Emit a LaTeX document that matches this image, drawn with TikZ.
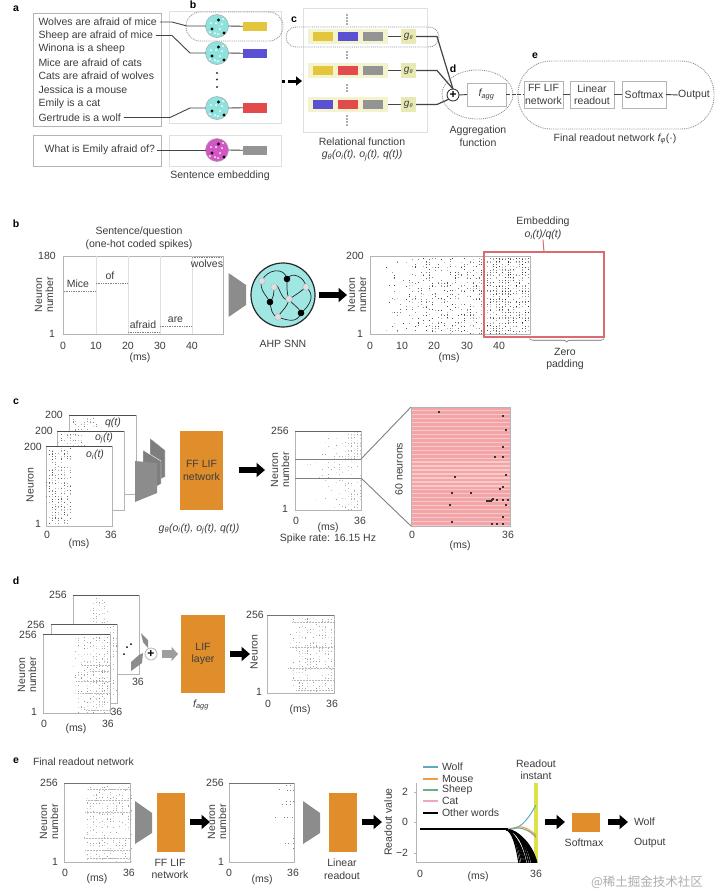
\documentclass[tikz,border=0pt]{standalone}
\usepackage{fontspec}
\setmainfont{Liberation Sans}
\newfontfamily\cjkfont{Noto Sans CJK SC}
\usetikzlibrary{arrows.meta,decorations.pathreplacing,calc,shapes.geometric}
\definecolor{txt}{HTML}{3C3C3C}
\definecolor{frameg}{HTML}{B4B4B4}
\definecolor{lightg}{HTML}{DFDFDF}
\definecolor{dotline}{HTML}{8A92A0}
\definecolor{wire}{HTML}{444444}
\definecolor{cyanb}{HTML}{8FE3DF}
\definecolor{magb}{HTML}{D455C4}
\definecolor{yel}{HTML}{E4C63C}
\definecolor{blu}{HTML}{5B50D2}
\definecolor{rdd}{HTML}{E24A4C}
\definecolor{gry}{HTML}{949494}
\definecolor{cream}{HTML}{F3F3CF}
\definecolor{gbox}{HTML}{E9E9B4}
\definecolor{orng}{HTML}{E08E2B}
\definecolor{pinkl}{HTML}{DC6A72}
\definecolor{trap}{HTML}{8C8C8C}
\definecolor{wolfc}{HTML}{62A8C6}
\definecolor{mousec}{HTML}{EE9E4A}
\definecolor{sheepc}{HTML}{66B282}
\definecolor{catc}{HTML}{EFA8BA}
\definecolor{barc}{HTML}{DDE346}
\definecolor{stripea}{HTML}{F9C8C8}
\definecolor{stripeb}{HTML}{F2A4A6}
\tikzset{
  lab/.style={font=\fontsize{10.5}{12.5}\selectfont,text=txt,inner sep=0pt,outer sep=0pt,align=center},
  tag/.style={font=\fontsize{10.5}{12}\selectfont\bfseries,text=black,inner sep=0pt},
  tbox/.style={draw=frameg,line width=.9pt,fill=white},
  ltbox/.style={draw=lightg,line width=1pt,fill=white},
  dotted shape/.style={draw=dotline,line width=.9pt,densely dotted},
  wireline/.style={draw=wire,line width=.9pt},
  blk/.style={draw=black,line width=6pt,-{Triangle[length=8.5pt,width=14pt]}},
  plotf/.style={draw=frameg,line width=.9pt,fill=white},
  orangeb/.style={fill=orng,font=\fontsize{10.5}{12.5}\selectfont,text=txt,align=center},
  trapz/.style={fill=trap},
  cell/.style={fill=cream}
}
% boxed node from corners: style, name, x0,y0,x1,y1, text
\newcommand{\bx}[7][]{\node[#1,minimum width={((#5)-(#3))*1pt},minimum height={((#6)-(#4))*1pt},inner sep=0pt,outer sep=0pt,anchor=center] (#2) at ({((#3)+(#5))/2},{((#4)+(#6))/2}) {#7};}
% raster: x0,y0,x1,y1,n,start fraction,power,grey level
\newcommand{\myraster}[8]{%
  \foreach \k in {1,...,#5}{%
    \pgfmathsetmacro\rx{#1+(#3-#1)*(#6+(1-#6)*pow(rnd,#7))}%
    \pgfmathsetmacro\ry{#2+(#4-#2)*rnd}%
    \pgfmathsetmacro\rqx{round(\rx/2.9)*2.9}%
    \pgfmathsetmacro\rqy{round(\ry/1.6)*1.6}%
    \pgfmathtruncatemacro\rlv{#8*(.35+.95*rnd)}%
    \fill[black!\rlv] (\rqx,\rqy) rectangle ++(.85,.85);%
  }}
\newcommand{\neuroncirc}[4]{%
  \node[circle,fill=#4,draw=black!35,line width=.5pt,minimum size=23pt,inner sep=0pt,outer sep=0pt] (#1) at (#2,#3) {};
  \foreach \a/\b in {1.5/-6,-5/3,7/7}{\fill[black] (#2+\a,#3+\b) circle (1.7);}
  \foreach \a/\b in {5/-2,-1/-3,-6/-3,3/3,-2/7,6/-7,-7/6,1/8}{\fill[white] (#2+\a,#3+\b) circle (1);}}
\begin{document}
\begin{tikzpicture}[x=1pt,y=-1pt]
\useasboundingbox[fill=white] (0,0) rectangle (720,895);
\pgfmathsetseed{7}

%%%%%%%%%%%%%%%% panel a
\node[tag] (taga) at (16,9) {a};
\bx[tbox]{sentbox}{33}{13}{161}{126}{}
\bx[tbox]{qbox}{33}{135}{161}{166}{}
\bx[ltbox]{embbox}{169}{11}{281}{123}{}
\bx[ltbox]{qembbox}{169}{135}{281}{166}{}
\foreach \n/\y/\t in {s1/22/Wolves are afraid of mice,s2/35.5/Sheep are afraid of mice,s3/49/Winona is a sheep,s4/62.5/Mice are afraid of cats,s5/76/Cats are afraid of wolves,s6/90/Jessica is a mouse,s7/103.5/Emily is a cat,s8/117.5/Gertrude is a wolf}
  {\node[lab,anchor=west] (\n) at (38.5,\y) {\t};}
\node[lab,anchor=east] (sq) at (155,150) {What is Emily afraid of?};
\node[tag] (tagb) at (193,5) {b};
\neuroncirc{c1}{217}{26}{cyanb}
\neuroncirc{c2}{217}{53}{cyanb}
\neuroncirc{c3}{217}{108}{cyanb}
\neuroncirc{c4}{217}{150}{magb}
\bx[fill=yel]{r1}{243}{21.5}{267}{31}{}
\bx[fill=blu]{r2}{243}{48.5}{267}{58}{}
\bx[fill=rdd]{r3}{243}{103}{267}{112.5}{}
\bx[fill=gry]{r4}{243}{145.5}{267}{155}{}
\draw[wireline] ([xshift=3pt]s1.east) -- (172,22) -- (187,26) -- (c1.west);
\draw[wireline] ([xshift=3pt]s2.east) -- (172,35.5) -- (190,53) -- (c2.west);
\draw[wireline] ([xshift=3pt]s8.east) -- (170,117.5) -- (190,108) -- (c3.west);
\draw[wireline] ([xshift=2pt]sq.east) -- (c4.west);
\foreach \i in {1,2,3,4}{\draw[wireline] (c\i.east) -- (r\i.west);}
\foreach \y in {73,79.5,87}{\fill[black!80] (217,\y) circle (1.1);}
\bx[dotted shape,rounded corners=14pt]{dotb}{186}{12}{283}{41}{}
\node[lab] (sentemb) at (220,176) {Sentence embedding};
% relational box
\bx[ltbox]{relbox}{303}{8}{427}{132}{}
\node[tag] (tagc) at (294,20) {c};
\foreach \row/\y/\ca/\cb in {1/36.5/yel/blu,2/70.5/yel/rdd,3/104.5/blu/rdd}{
  \bx[cell]{row\row}{308}{\y-7.5}{388}{\y+7.5}{}
  \bx[fill=\ca]{ra\row}{313}{\y-4.5}{333}{\y+4.5}{}
  \bx[fill=\cb]{rb\row}{338}{\y-4.5}{358}{\y+4.5}{}
  \bx[fill=gry]{rc\row}{363}{\y-4.5}{383}{\y+4.5}{}
  \bx[fill=gbox,font=\fontsize{10}{11}\selectfont\itshape,text=txt]{g\row}{401}{\y-7.5}{416}{\y+7.5}{g\textsubscript{\fontsize{5.5}{5.5}\selectfont θ}}
  \draw[wireline] (row\row.east) -- (g\row.west);
}
\foreach \y in {15,18,21,24,52,55,58,85,88,91,116,119,122,125}{\fill[black!65] (347,\y) circle (.8);}
\bx[dotted shape,rounded corners=10pt]{dotc}{286}{27}{439}{47}{}
\node[lab] (relt) at (362,142) {Relational function};
\node[lab] (relf) at (362,155.5) {\itshape g\textsubscript{θ}(o\textsubscript{i}(t), o\textsubscript{j}(t), q(t))};
\node[circle,draw=txt,line width=.9pt,fill=white,minimum size=12pt,inner sep=0pt,outer sep=0pt,font=\fontsize{12}{12}\selectfont\bfseries,text=black] (plus) at (453,95) {+};
\draw[draw=wire,line width=1.2pt] (g1.east) -- (437,36.5) -- (plus.north);
\draw[draw=wire,line width=1.2pt] (g2.east) -- (437,70.5) -- (plus.north);
\draw[draw=wire,line width=1.2pt] (g3.east) -- (437,104.5) -- (plus.south west);
\bx[tbox]{fagg}{467}{83}{506}{106}{\fontsize{10.5}{12}\selectfont\color{txt}\itshape f\textsubscript{agg}}
\draw[wireline] (plus.east) -- (fagg.west);
\bx[tbox,font=\fontsize{10.5}{12.5}\selectfont,text=txt,align=center]{fflif}{524}{81}{563}{108}{FF LIF\\network}
\bx[tbox,font=\fontsize{10.5}{12.5}\selectfont,text=txt,align=center]{linr}{570}{81}{614}{108}{Linear\\readout}
\bx[tbox,font=\fontsize{10.5}{12.5}\selectfont,text=txt,align=center]{softm}{622}{81}{666}{108}{Softmax}
\node[lab] (outp) at (694,95) {Output};
\draw[wireline,dash pattern=on 4pt off 1.5pt] (fagg.east) -- (fflif.west);
\draw[wireline] (fflif.east) -- (linr.west);
\draw[wireline] (linr.east) -- (softm.west);
\draw[wireline] (softm.east) -- (outp.west);
\bx[dotted shape,ellipse]{dotd}{442}{70}{513}{119}{}
\bx[dotted shape,rounded corners=33pt]{dote}{518}{61}{714}{129}{}
\node[tag] (tagd) at (453,69) {d};
\node[tag] (tage) at (535,56) {e};
\node[lab] (aggt) at (478,136) {Aggregation\\function};
\node[lab] (finalt) at (615,139) {Final readout network {\itshape f\textsubscript{φ}}(·)};
\coordinate (adot) at (283,81);
\fill[black] (281.5,79.5) rectangle (284.5,82.5);
\coordinate (aa) at (288,81); \coordinate (ab) at (302,81);
\draw[draw=black,line width=3pt,-{Triangle[length=6pt,width=9pt]}] (aa) -- (ab);

%%%%%%%%%%%%%%%% panel b
\node[tag] (tagb2) at (16,224) {b};
\node[lab] (bti) at (139,238.5) {Sentence/question\\(one-hot coded spikes)};
\bx[plotf]{bplot}{63}{256}{223}{334}{}
\foreach \x in {96,128,160,192}{\draw[lightg,line width=.6pt] (\x,256) -- (\x,334);}
\foreach \xa/\xb/\y/\xl/\yl/\t in {64/95/291/78/284/Mice,96/127/283/110/276/of,128/159/332/143/324.5/afraid,160/191/326/175.5/320/are,192/222/257.5/207/264/wolves}{
  \draw[black!50,line width=.7pt,densely dotted] (\xa,\y) -- (\xb,\y);
  \node[lab] (w\t) at (\xl,\yl) {\t};
}
\foreach \x/\t in {63/0,96/10,128/20,160/30,192/40}{\node[lab] (bx\t) at (\x,345.5) {\t};}
\node[lab] (bms) at (140,358) {(ms)};
\node[lab] (by1) at (47,256) {180};
\node[lab] (by2) at (52,334) {1};
\node[lab,rotate=90] (byl) at (44,295) {Neuron\\[-1.5pt]number};
\fill[trapz] (228.5,273) -- (246,285) -- (246,305) -- (228.5,317) -- cycle;
\node[circle,draw=black!85,line width=1.2pt,fill=cyanb!85!white,minimum size=64pt,inner sep=0pt] (snn) at (283,295) {};
\foreach \n/\x/\y in {g1/262/281,g2/274/287,g3/306/287,g4/289/299,g5/278/317,h1/287/279,h2/270/302,h3/301/313}{
  \coordinate (\n) at (\x,\y);
}
\begin{scope}[line width=.7pt,black!85]
\draw (g1) to[out=70,in=100,looseness=1.3] (h1);
\draw (h1) to[out=-90,in=110] (g4);
\draw (h1) to[out=60,in=95,looseness=1.2] (g3);
\draw (g3) to[out=-40,in=40,looseness=1.2] (h3);
\draw (g4) to[out=30,in=-140] (g3);
\draw (g4) to[out=-60,in=110] (h3);
\draw (h2) to[out=50,in=-90] (g2);
\draw (h2) to[out=-80,in=170] (g5);
\draw (g1) to[out=-110,in=120] (h2);
\draw (g5) to[out=-20,in=-110,looseness=1.2] (h3);
\draw (g2) to[out=60,in=-150,looseness=1.3] (g4);
\draw (g5) to[out=60,in=-100] (g4);
\end{scope}
\foreach \n in {g1,g2,g3,g4,g5}{\fill[lightg,draw=black!35,line width=.3pt] (\n) circle (3.3);}
\foreach \n in {h1,h2,h3}{\fill[black] (\n) circle (3.3);}
\node[lab] (ahp) at (283,344) {AHP SNN};
\coordinate (ba) at (319,295); \coordinate (bb) at (347,295);
\draw[blk] (ba) -- (bb);
\bx[plotf]{brast}{370}{256}{530}{334}{}
\myraster{378}{257}{529}{333}{850}{.05}{.62}{60}
\myraster{484}{257}{529}{333}{200}{0}{1}{70}
\foreach \x/\t in {370/0,402/10,434/20,467/30,499/40}{\node[lab] (rx\t) at (\x,345.5) {\t};}
\node[lab] (rms) at (449,358) {(ms)};
\node[lab] (ry1) at (355,256) {200};
\node[lab] (ry2) at (360,334) {1};
\node[lab,rotate=90] (ryl) at (357,295) {Neuron\\[-1.5pt]number};
\bx[draw=pinkl,line width=1.2pt]{prect}{484}{252}{604}{337}{}
\node[lab] (embt) at (543,228.5) {Embedding\\{\itshape o\textsubscript{i}(t)/q(t)}};
\draw[draw=pinkl,line width=1pt] (prect.north) -- (embt.south);
\coordinate (bra) at (529.5,338.5); \coordinate (brb) at (604,338.5);
\draw[black!60,line width=.6pt,decorate,decoration={brace,mirror,amplitude=3.5pt}] (bra) -- (brb);
\node[lab] (zp) at (565,359) {Zero\\padding};

%%%%%%%%%%%%%%%% panel c
\node[tag] (tagc2) at (16,402) {c};
\bx[plotf]{cq}{69}{415}{136}{494}{}
\myraster{71}{417}{95}{430}{35}{0}{1}{45}
\bx[plotf]{cj}{57}{431}{124}{510}{}
\myraster{59}{433}{83}{445}{35}{0}{1}{45}
\bx[plotf]{ci}{46}{446}{112}{526}{}
\myraster{47}{448}{71}{524}{240}{0}{1}{55}
\draw[black!70,line width=.9pt] (69,415) -- (136,415) (57,431) -- (124,431) (46,446) -- (112,446);
\node[lab] (cy1) at (54,415) {200};
\node[lab] (cy2) at (44,431) {200};
\node[lab] (cy3) at (33,447) {200};
\node[lab] (cy4) at (38,524) {1};
\node[lab] (cx0) at (47,535) {0};
\node[lab] (cx1) at (111,535) {36};
\node[lab] (cms) at (79,544) {(ms)};
\node[lab,rotate=90] (cyl) at (30,485) {Neuron};
\node[lab] (lq) at (113,423) {\itshape q(t)};
\node[lab] (lj) at (104,438) {\itshape o\textsubscript{j}(t)};
\node[lab] (li) at (95,455) {\itshape o\textsubscript{i}(t)};
\fill[trap!90!black] (150,438) -- (165,450) -- (165,477) -- (150,484) -- cycle;
\draw[white,line width=.4pt] (150,438) -- (165,450) -- (165,477) -- (150,484) -- cycle;
\fill[trap!90!black] (143,450) -- (161,461) -- (161,484) -- (143,494) -- cycle;
\draw[white,line width=.4pt] (143,450) -- (161,461) -- (161,484) -- (143,494) -- cycle;
\fill[trap] (135,461) -- (157,463) -- (157,493) -- (135,502) -- cycle;
\bx[orangeb]{cff}{180}{431}{223}{510}{FF LIF\\network}
\node[lab] (cgt) at (199,529) {\itshape g\textsubscript{θ}(o\textsubscript{i}(t), o\textsubscript{j}(t), q(t))};
\coordinate (ca) at (239,470); \coordinate (cb) at (265,470);
\draw[blk] (ca) -- (cb);
\bx[plotf]{cr}{295}{431}{361}{510}{}
\myraster{297}{432}{360}{509}{100}{.1}{.6}{30}
\myraster{345}{432}{360}{458}{90}{0}{1}{30}
\myraster{345}{480}{360}{509}{30}{0}{1}{30}
\draw[black!60,line width=1pt] (295,431) -- (361,431);
\draw[black!50,line width=.9pt] (295,459) -- (361,459) (295,478) -- (361,478);
\coordinate (zt) at (361,459); \coordinate (zb) at (361,478);
\node[lab] (cry1) at (280,431) {256};
\node[lab] (cry2) at (285,509) {1};
\node[lab] (crx0) at (296,521) {0};
\node[lab] (crx1) at (360,521) {36};
\node[lab] (crms) at (328,528) {(ms)};
\node[lab] (rate) at (328,539) {Spike rate: 16.15 Hz};
\node[lab,rotate=90] (cryl) at (280,470) {Neuron\\[-1.5pt]number};
\bx[fill=stripea,draw=frameg,line width=.8pt]{zoombox}{411}{407}{510}{526}{}
\foreach \i in {0,...,29}{\fill[stripeb] (411.5,407.5+\i*3.95) rectangle (509.5,407.5+\i*3.95+2.6);}
\draw[black!50,line width=.9pt] (zt) -- (zoombox.north west);
\draw[black!50,line width=.9pt] (zb) -- (zoombox.south west);
\foreach \x/\y in {439/412,503/416,506/430,503/447,495/457,503/457,455/477,506/475,503/487,500/489,452/493,471/493,487/501,489/501,491/501,492/500,493/499,497/500,503/500,508/500,450/505,506/505,503/517,452/522,492/524,497/524,503/524}
  {\fill[black!80] (\x-1,\y-.8) rectangle (\x+1,\y+.8);}
\node[lab,rotate=90] (n60) at (399,469) {60 neurons};
\node[lab] (zx0) at (412,535) {0};
\node[lab] (zx1) at (508,535) {36};
\node[lab] (zms) at (460,546) {(ms)};

%%%%%%%%%%%%%%%% panel d
\node[tag] (tagd2) at (16,581) {d};
\bx[plotf]{dq}{73}{595}{139}{674}{}
\myraster{90}{597}{108}{624}{40}{0}{1}{28}
\bx[plotf]{dj}{51}{624}{117}{703}{}
\myraster{108}{626}{116}{702}{55}{0}{1}{35}
\bx[plotf]{di}{43}{634}{110}{713}{}
\myraster{72}{636}{110}{712}{270}{0}{.7}{35}
\foreach \xa/\xb/\y in {82/110/665,76/110/681,80/110/693,86/110/710,90/110/671}{\draw[black!28,line width=.5pt,densely dotted] (\xa,\y) -- (\xb,\y);}
\draw[black!65,line width=.9pt] (73,595) -- (139,595) (51,624) -- (117,624) (43,634) -- (110,634);
\node[lab] (dy1) at (58,595) {256};
\node[lab] (dy2) at (36,625) {256};
\node[lab] (dy3) at (28,635) {256};
\node[lab] (dy4) at (34,712) {1};
\node[lab] (dx0) at (44,724) {0};
\node[lab] (dx1) at (108,724) {36};
\node[lab] (dx2) at (116.5,711.5) {36};
\node[lab] (dx3) at (138,682) {36};
\node[lab] (dms) at (76,729) {(ms)};
\node[lab,rotate=90] (dyl) at (27,675) {Neuron\\[-1.5pt]number};
\foreach \x/\y in {124/654,127/647,131/644}{\fill[black] (\x,\y) circle (1);}
\fill[trap] (141,633) -- (148,640) -- (148,648) -- (143,642) -- cycle;
\fill[trap] (139,655) -- (143,653) -- (142,663) -- (131,671) -- (131,662) -- cycle;
\node[circle,draw=frameg,line width=.8pt,fill=white,minimum size=12pt,inner sep=0pt,outer sep=0pt,font=\fontsize{12}{12}\selectfont\bfseries,text=black] (dplus) at (151,654) {+};
\coordinate (dga) at (162,654); \coordinate (dgb) at (178,654);
\draw[draw=trap!85!white,line width=7.5pt,-{Triangle[length=6.5pt,width=14pt]}] (dga) -- (dgb);
\bx[orangeb]{dlif}{181}{615}{225}{693}{LIF\\layer}
\node[lab] (dfa) at (201,705) {\itshape f\textsubscript{agg}};
\coordinate (da) at (230,654); \coordinate (db) at (250,654);
\draw[blk] (da) -- (db);
\bx[plotf]{dr}{267}{615}{334}{693}{}
\myraster{290}{617}{334}{692}{260}{0}{.9}{32}
\foreach \xa/\y in {292/622,290/647,288/668,292/680,296/690}{\draw[black!28,line width=.5pt,densely dotted] (\xa,\y) -- (334,\y);}
\draw[black!55,line width=1pt] (267,615) -- (334,615);
\node[lab] (dry1) at (255,615) {256};
\node[lab] (dry2) at (259,692) {1};
\node[lab] (drx0) at (268,704) {0};
\node[lab] (drx1) at (332,704) {36};
\node[lab] (drms) at (300,710) {(ms)};
\node[lab,rotate=90] (dryl) at (254,652) {Neuron};

%%%%%%%%%%%%%%%% panel e
\node[tag] (tage2) at (16,761) {e};
\node[lab,anchor=west] (efin) at (33,762) {Final readout network};
\bx[plotf]{ep1}{64}{783}{130}{862}{}
\myraster{85}{785}{130}{861}{260}{0}{.9}{32}
\foreach \xa/\y in {88/789,86/800,85/812,84/838,85/850,88/858}{\draw[black!28,line width=.5pt,densely dotted] (\xa,\y) -- (130,\y);}
\draw[black!55,line width=1pt] (64,783) -- (130,783);
\node[lab] (e1y1) at (49,783) {256};
\node[lab] (e1y2) at (55,862) {1};
\node[lab] (e1x0) at (65,873) {0};
\node[lab] (e1x1) at (129,873) {36};
\node[lab] (e1ms) at (97,879) {(ms)};
\node[lab,rotate=90] (e1yl) at (49,822) {Neuron\\[-1.5pt]number};
\fill[trapz] (135,801) -- (152,813) -- (152,833) -- (135,844) -- cycle;
\bx[orangeb]{eff}{157}{793}{185}{852}{}
\node[lab] (efft) at (170,869) {FF LIF\\network};
\coordinate (ea1) at (190,822); \coordinate (ea2) at (210,822);
\draw[blk] (ea1) -- (ea2);
\bx[plotf]{ep2}{229}{783}{294}{862}{}
\foreach \x/\y in {286/785,290/785,279/789,287/790,290/790,293/790,290/801,286/801,293/801,282/804,286/804,290/804,275/817,284/817,287/817,292/817,285/843,288/843,293/843,293/838,293/848}
  {\fill[black!50] (\x,\y) rectangle ++(.9,.9);}
\draw[black!55,line width=1pt] (229,783) -- (294,783);
\node[lab] (e2y1) at (215,783) {256};
\node[lab] (e2y2) at (221,862) {1};
\node[lab] (e2x0) at (229,873) {0};
\node[lab] (e2x1) at (293,873) {36};
\node[lab] (e2ms) at (262,880) {(ms)};
\node[lab,rotate=90] (e2yl) at (217,822) {Neuron\\[-1.5pt]number};
\fill[trapz] (303,801) -- (320,813) -- (320,833) -- (303,844) -- cycle;
\bx[orangeb]{elr}{329}{793}{357}{852}{}
\node[lab] (elrt) at (342,869) {Linear\\readout};
\coordinate (eb1) at (362,822); \coordinate (eb2) at (382,822);
\draw[blk] (eb1) -- (eb2);
% readout plot
\fill[barc] (534,783) rectangle (538,862);
\draw[frameg,line width=.9pt] (416,783) -- (416,862) -- (537,862);
\foreach \y in {792,822,853}{\draw[frameg,line width=.7pt] (414,\y) -- (416,\y);}
\node[lab] (ry2v) at (405,792) {2};
\node[lab] (ry0v) at (405,822) {0};
\node[lab] (rym) at (402,853) {−2};
\node[lab] (rxa) at (420,874) {0};
\node[lab] (rxb) at (536,874) {36};
\node[lab] (rxm) at (478,877) {(ms)};
\node[lab,rotate=90] (ryv) at (388,822) {Readout value};
\begin{scope}
\clip (416,783) rectangle (538,862);
\foreach \e in {519,520.5,522,523,524,525,526}{\draw[black,line width=1.1pt] (505,829) .. controls (512,830) and (\e-3,845) .. (\e,864);}
\foreach \e in {528,530,532,533,534,535,536,537}{\draw[black,line width=1.5pt] (505,829) .. controls (518,830) and (\e-4,845) .. (\e,864);}
\draw[black,line width=1.2pt] (420,829) -- (508,829);
\draw[catc,line width=.9pt] (508,829) .. controls (518,826) and (528,828) .. (536,838);
\draw[sheepc,line width=.9pt] (510,829) .. controls (520,826) and (530,830) .. (536,837);
\draw[mousec,line width=1pt] (512,829) .. controls (520,824) and (528,828) .. (536,835);
\draw[wolfc,line width=1pt] (512,829) .. controls (522,828) and (530,816) .. (536,805);
\end{scope}
\node[lab,anchor=west] (lw) at (442,767) {Wolf};
\node[lab,anchor=west] (lm) at (442,779) {Mouse};
\node[lab,anchor=west] (ls) at (442,790) {Sheep};
\node[lab,anchor=west] (lc) at (442,801) {Cat};
\node[lab,anchor=west] (lo) at (442,813) {Other words};
\coordinate (lwa) at (423,767); \coordinate (lma) at (423,779); \coordinate (lsa) at (423,790); \coordinate (lca) at (423,801); \coordinate (loa) at (423,813);
\draw[draw=wolfc,line width=1.3pt] (lwa) -- ([xshift=-4pt]lw.west);
\draw[draw=mousec,line width=1.3pt] (lma) -- ([xshift=-4pt]lm.west);
\draw[draw=sheepc,line width=1.3pt] (lsa) -- ([xshift=-4pt]ls.west);
\draw[draw=catc,line width=1.3pt] (lca) -- ([xshift=-4pt]lc.west);
\draw[draw=black,line width=1.5pt] (loa) -- ([xshift=-4pt]lo.west);
\node[lab] (rinst) at (536,769.5) {Readout\\instant};
\coordinate (ec1) at (545,822); \coordinate (ec2) at (565,822);
\draw[blk] (ec1) -- (ec2);
\bx[orangeb]{esm}{572}{813}{600}{832}{}
\node[lab] (esmt) at (584,843) {Softmax};
\coordinate (ed1) at (608,822); \coordinate (ed2) at (628,822);
\draw[blk] (ed1) -- (ed2);
\node[lab,anchor=west] (ewolf) at (634,822) {Wolf};
\node[lab,anchor=west] (eout) at (634,843) {Output};
\node[font=\cjkfont\fontsize{12.5}{14}\selectfont,text=black!32,inner sep=0pt] (wm) at (647,882) {@稀土掘金技术社区};
\end{tikzpicture}
\end{document}
